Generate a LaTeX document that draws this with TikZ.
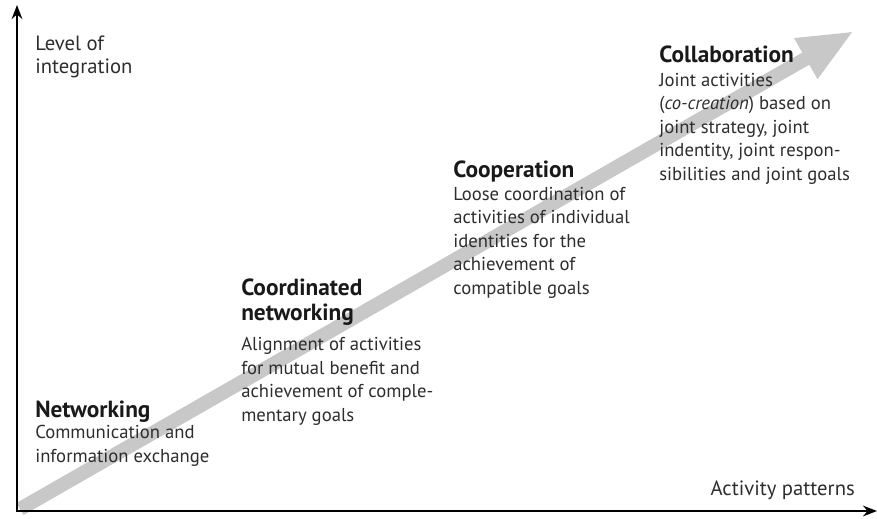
\documentclass[tikz,border=0pt]{standalone}
\usepackage{fontspec}
\setmainfont{PT Sans}
\usetikzlibrary{arrows.meta}
\definecolor{bandgray}{RGB}{200,200,200}
\definecolor{textgray}{RGB}{45,45,45}
\begin{document}
\begin{tikzpicture}[x=0.75pt,y=-0.75pt,>={Stealth[length=10.5pt,width=8pt]},
	head/.style={anchor=base west,inner sep=0pt,align=left,font=\bfseries\fontsize{17.5}{18.75}\selectfont,text=black!90},
	body/.style={anchor=base west,inner sep=0pt,align=left,font=\fontsize{14}{17.6}\selectfont,text=textgray},
	axislabel/.style={body,font=\fontsize{15.5}{17}\selectfont},
	band/.style={draw=bandgray,line width=10.5pt,-{Triangle[length=41.7pt,width=32pt]}}]
	\useasboundingbox (0,0) rectangle (877,518);
	\coordinate (origin) at (17,511);
	\coordinate (ytip) at (17,5);
	\coordinate (xtip) at (877,511);
	\coordinate (bandstart) at (20,509);
	\coordinate (bandtip) at (854,31);
	\draw[band] (bandstart)--(bandtip);
	\draw[line width=1.5pt,<->] (ytip)--(origin)--(xtip);
	\node[axislabel] (yLabel) at (35,73) {Level of\\integration};
	\node[axislabel,anchor=base east] (xLabel) at (855,495) {Activity patterns};
	\node[head] (netHead) at (35,417) {Networking};
	\node[body] (netText) at (35,462) {Communication and\\information exchange};
	\node[head] (coordHead) at (241,320) {Coordinated\\networking};
	\node[body] (coordText) at (241,421) {Alignment of activities\\for mutual benefit and\\achievement of comple-\\mentary goals};
	\node[head] (coopHead) at (453,177) {Cooperation};
	\node[body] (coopText) at (453,294) {Loose coordination of\\activities of individual\\identities for the\\achievement of\\compatible goals};
	\node[head] (collabHead) at (659,62) {Collaboration};
	\node[body] (collabText) at (659,180) {Joint activities\\(\textit{co-creation}) based on\\joint strategy, joint\\indentity, joint respon-\\sibilities and joint goals};
\end{tikzpicture}
\end{document}
